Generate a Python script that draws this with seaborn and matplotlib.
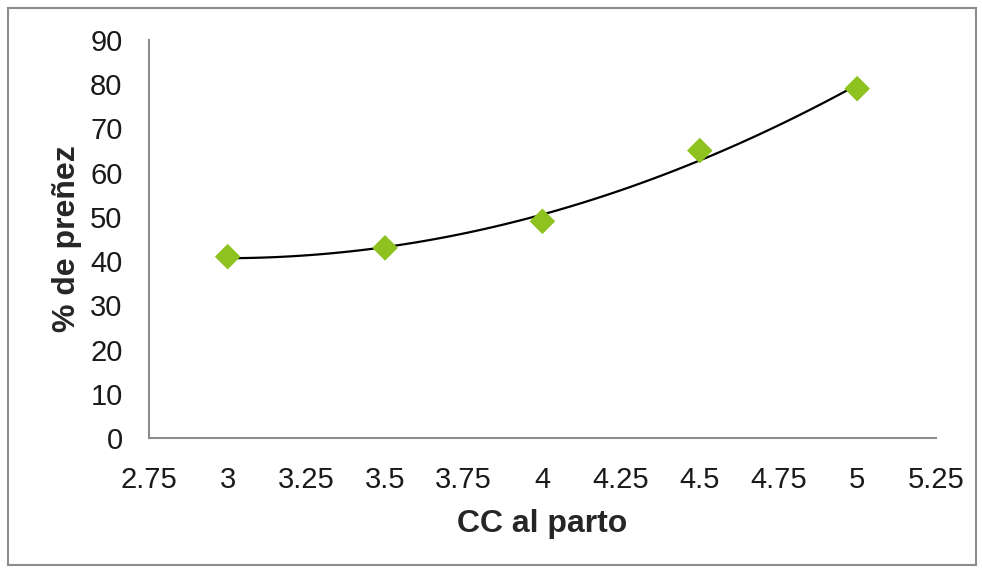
import matplotlib
matplotlib.use("Agg")
import matplotlib.pyplot as plt
import seaborn as sns
import pandas as pd
from matplotlib.patches import Rectangle

# Body condition at calving vs pregnancy rate
cc_parto = [3.0, 3.5, 4.0, 4.5, 5.0]
prenez = [41, 43, 49, 65, 79]
x_ticks = [2.75, 3, 3.25, 3.5, 3.75, 4, 4.25, 4.5, 4.75, 5, 5.25]
x_tick_labels = ["2.75", "3", "3.25", "3.5", "3.75", "4", "4.25", "4.5", "4.75", "5", "5.25"]
y_ticks = [0, 10, 20, 30, 40, 50, 60, 70, 80, 90]

df = pd.DataFrame({"cc": cc_parto, "preñez": prenez})

sns.set_theme(style="white")
plt.rcParams["font.family"] = ["Liberation Sans", "DejaVu Sans"]

fig = plt.figure(figsize=(9.82, 5.70), dpi=100)
ax = fig.add_axes([0.1517, 0.2316, 0.953 - 0.1517, 0.9298 - 0.2316])

# Second-order polynomial trend line
sns.regplot(data=df, x="cc", y="preñez", order=2, ci=None, scatter=False,
            truncate=True, color="black", line_kws={"linewidth": 1.6}, ax=ax)
sns.scatterplot(data=df, x="cc", y="preñez", marker="D", s=170,
                color="#8DC21F", edgecolor="none", zorder=3, ax=ax)

ax.set_xlim(2.75, 5.25)
ax.set_ylim(0, 90)
ax.set_xticks(x_ticks)
ax.set_xticklabels(x_tick_labels)
ax.set_yticks(y_ticks)
ax.tick_params(axis="both", length=0, labelsize=21, colors="#1a1a1a")
ax.tick_params(axis="x", pad=20)
ax.tick_params(axis="y", pad=19)

for side in ["top", "right"]:
    ax.spines[side].set_visible(False)
for side in ["left", "bottom"]:
    ax.spines[side].set_color("#8c8c8c")
    ax.spines[side].set_linewidth(1.5)

ax.set_xlabel("CC al parto", fontsize=23, fontweight="bold", labelpad=11)
ax.set_ylabel("% de preñez", fontsize=23, fontweight="bold", labelpad=6)

# Outer chart border
fig.patches.append(Rectangle((8 / 982, 5 / 570), 968 / 982, 557 / 570,
                             transform=fig.transFigure, fill=False,
                             edgecolor="#8c8c8c", linewidth=1.5))

fig.savefig("out.png", dpi=100)
